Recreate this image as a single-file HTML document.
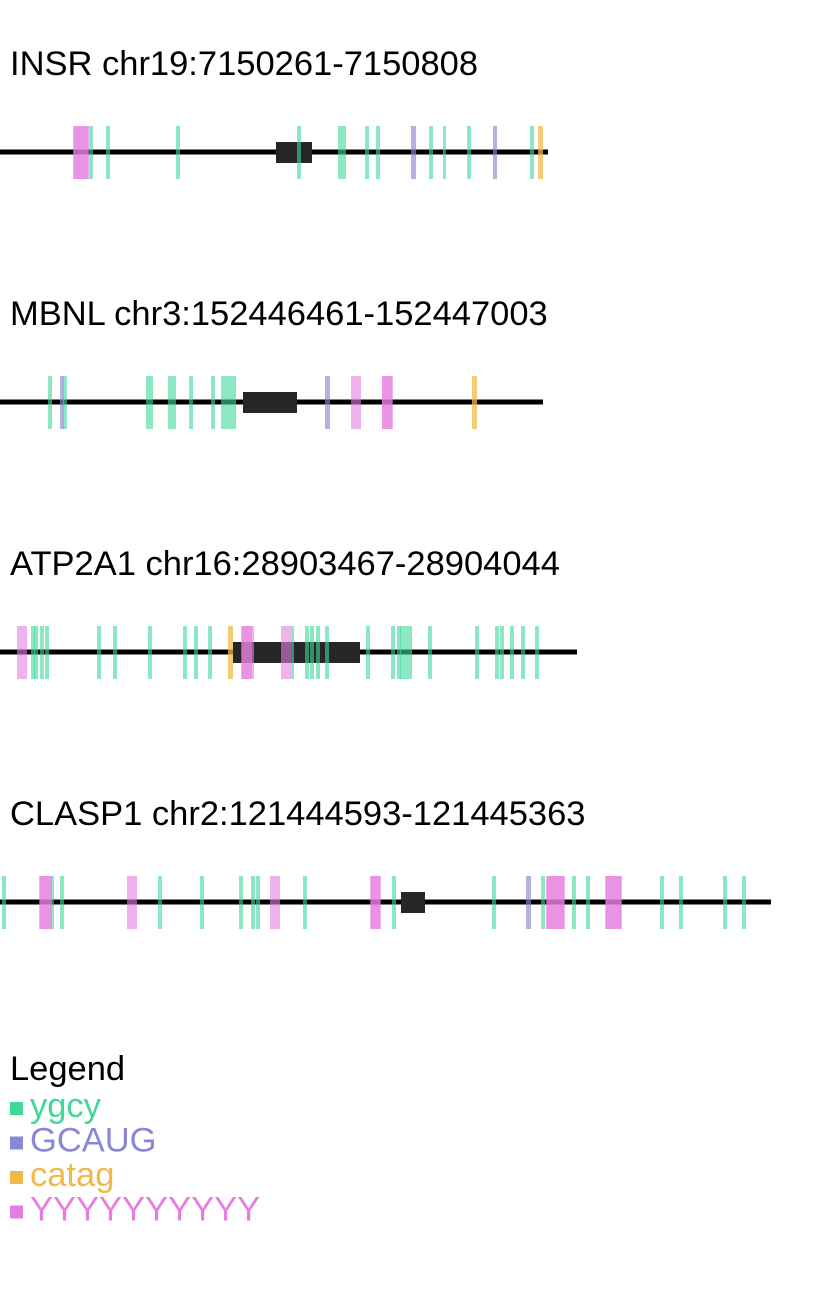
<!DOCTYPE html>
<html><head><meta charset="utf-8">
<style>
html,body{margin:0;padding:0;background:#fff;}
svg{display:block;font-family:"Liberation Sans",Arial,sans-serif;}
</style></head>
<body>
<svg id="chart" width="821" height="1300" viewBox="0 0 821 1300"></svg>
<script>
// Track data: genomic titles, region lengths (bp), CDS box, and motif hits [start,end,type] in bp offset
const trackTitles = ["INSR chr19:7150261-7150808","MBNL chr3:152446461-152447003","ATP2A1 chr16:28903467-28904044","CLASP1 chr2:121444593-121445363"];
const trackLengths = [548, 543, 577, 771];
const boxes = [[276,312],[243,297],[233,360],[401,425]];
const hits1 = [[73,89,"Y"],[74,88,"Y"],[89,93,"g"],[106,110,"g"],[176,180,"g"],[297,301,"g"],[338,346,"g"],[365,369,"g"],[376,380,"g"],[411,416,"p"],[429,433,"g"],[443,446,"g"],[467,471,"g"],[493,497,"p"],[530,534,"g"],[538,543,"o"]];
const hits2 = [[48,52,"g"],[60,64,"p"],[63,67,"g"],[146,149,"g"],[149,153,"g"],[168,176,"g"],[189,193,"g"],[211,215,"g"],[221,229,"g"],[229,236,"g"],[325,330,"p"],[351,361,"Y"],[382,393,"Y"],[382,392,"Y"],[472,477,"o"]];
const hits3 = [[17,27,"Y"],[31,35,"g"],[34,38,"g"],[40,44,"g"],[45,49,"g"],[97,101,"g"],[113,117,"g"],[148,152,"g"],[183,187,"g"],[194,198,"g"],[208,212,"g"],[228,233,"o"],[241,254,"Y"],[242,252,"Y"],[281,291,"Y"],[291,294,"g"],[305,309,"g"],[310,314,"g"],[316,320,"g"],[325,329,"g"],[366,370,"g"],[391,395,"g"],[397,401,"g"],[400,403,"g"],[403,408,"g"],[408,412,"g"],[428,432,"g"],[475,479,"g"],[495,499,"g"],[500,504,"g"],[510,514,"g"],[521,525,"g"],[535,539,"g"]];
const hits4 = [[2,6,"g"],[39,52,"Y"],[40,51,"Y"],[51,54,"g"],[60,64,"g"],[127,137,"Y"],[158,162,"g"],[200,204,"g"],[239,243,"g"],[251,255,"g"],[256,260,"g"],[270,280,"Y"],[303,307,"g"],[370,381,"Y"],[371,380,"Y"],[392,396,"g"],[492,496,"g"],[526,531,"p"],[541,545,"g"],[546,565,"Y"],[547,564,"Y"],[572,576,"g"],[586,590,"g"],[605,622,"Y"],[606,621,"Y"],[660,664,"g"],[679,683,"g"],[723,727,"g"],[742,746,"g"]];
const allHits = [hits1,hits2,hits3,hits4];
const legendLabels = ["ygcy","GCAUG","catag","YYYYYYYYYY"];
const legendKeys = ["g","p","o","Y"];

const NS="http://www.w3.org/2000/svg";
const svg=document.getElementById('chart');
const colors={g:"#3fd89a",p:"#8a87d6",o:"#f0b94a",Y:"#e67ee0"};
const markOpacity={g:0.6,p:0.65,o:0.75,Y:0.6};
const xScale=bp=>bp*1.0;
const trackY=i=>152+i*250;
function el(tag,attrs){const e=document.createElementNS(NS,tag);for(const k in attrs)e.setAttribute(k,attrs[k]);svg.appendChild(e);return e;}

trackTitles.forEach((t,i)=>{
  const y=trackY(i);
  const title=el('text',{x:10,y:y-77,'font-size':34.5,fill:'#000'});
  title.textContent=t;
  
  
  const line=el('rect',{x:0,y:y-2.5,width:xScale(trackLengths[i]),height:5,fill:'#000'});
  
  
  const b=boxes[i];
  const box=el('rect',{x:xScale(b[0]),y:y-10,width:xScale(b[1])-xScale(b[0]),height:21,fill:'#262626'});
  
  
  allHits[i].forEach(h=>{
    const m=el('rect',{x:xScale(h[0]),y:y-26,width:xScale(h[1])-xScale(h[0]),height:53,fill:colors[h[2]],'fill-opacity':markOpacity[h[2]]});
    
    
  });
});

const lt=el('text',{x:10,y:1080,'font-size':34.5,fill:'#000'});
lt.textContent="Legend";


legendLabels.forEach((l,i)=>{
  const by=1117+i*34.5;
  const sq=el('rect',{x:10,y:by-15,width:13,height:13,fill:colors[legendKeys[i]]});
  
  
  const tx=el('text',{x:30,y:by,'font-size':34.5,fill:colors[legendKeys[i]]});
  tx.textContent=l;
  
  
});
</script>
</body></html>
